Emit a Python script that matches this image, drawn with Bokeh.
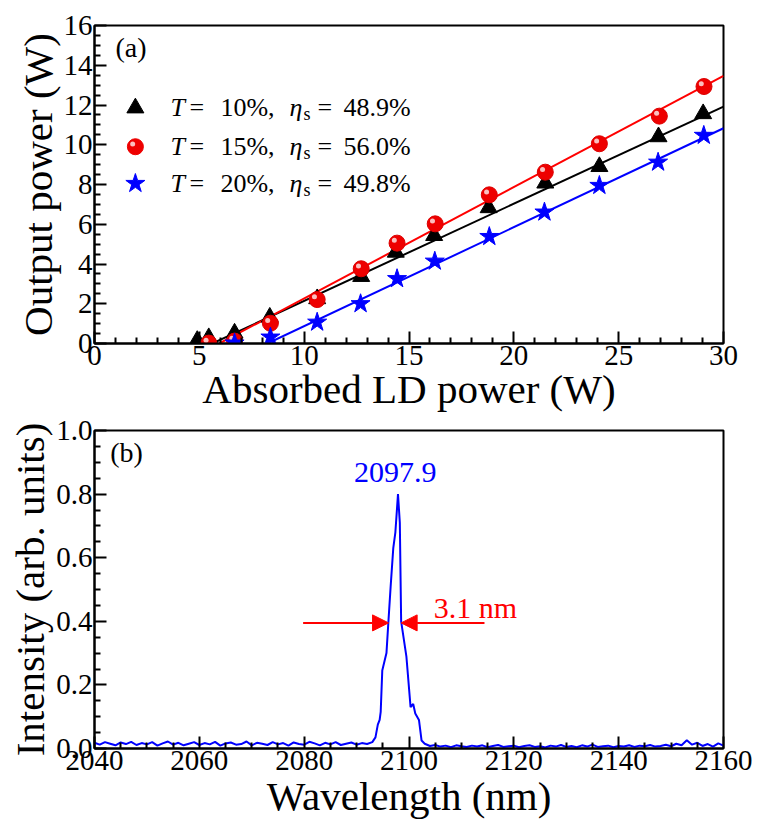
from bokeh.plotting import figure
from bokeh.models import Label, Arrow, NormalHead, FixedTicker, LinearAxis
from bokeh.layouts import column
from bokeh.embed import file_html
from bokeh.resources import INLINE

FONT = "Liberation Serif"   # annotations
FONT_AX = "serif"           # axes

# ---------------- (a) output power data ----------------
T10_X = [4.9, 5.45, 6.68, 8.36, 10.62, 12.72, 14.37, 16.2, 18.8, 21.5, 24.08, 26.9, 29.03]
T10_Y = [0.15, 0.29, 0.52, 1.32, 2.25, 3.37, 4.59, 5.43, 6.83, 8.07, 8.9, 10.4, 11.56]
T15_X = [5.45, 6.68, 8.39, 10.62, 12.72, 14.43, 16.25, 18.83, 21.5, 24.08, 26.94, 29.07]
T15_Y = [0.02, 0.12, 1.02, 2.21, 3.76, 5.05, 6.02, 7.48, 8.62, 10.05, 11.44, 12.93]
T20_X = [6.68, 8.39, 10.62, 12.69, 14.43, 16.23, 18.83, 21.46, 24.08, 26.88, 29.06]
T20_Y = [0.02, 0.32, 1.07, 2.0, 3.26, 4.14, 5.38, 6.61, 7.95, 9.12, 10.47]

FIT_SLOPE = [0.489, 0.560, 0.498]
FIT_X0 = [5.62, 5.95, 8.25]
FIT_XEND = 30.0

LEG_T = ["10%", "15%", "20%"]
LEG_ETA = ["48.9%", "56.0%", "49.8%"]

XTICKS_A = [0, 5, 10, 15, 20, 25, 30]
YTICKS_A = [0, 2, 4, 6, 8, 10, 12, 14, 16]

# ---------------- (b) spectrum data ----------------
BASE_L_WL = list(range(2040, 2093))
BASE_L_I = [0.018, 0.012, 0.020, 0.015, 0.010, 0.019, 0.014, 0.021, 0.011, 0.017,
            0.013, 0.020, 0.009, 0.016, 0.022, 0.012, 0.018, 0.010, 0.015, 0.020,
            0.011, 0.017, 0.013, 0.021, 0.009, 0.016, 0.019, 0.012, 0.014, 0.022,
            0.010, 0.018, 0.015, 0.011, 0.020, 0.013, 0.017, 0.009, 0.019, 0.014,
            0.012, 0.021, 0.016, 0.010, 0.018, 0.013, 0.020, 0.011, 0.015, 0.019,
            0.012, 0.017, 0.014]
PEAK_WL = [2093.0, 2093.6, 2094.05, 2094.4, 2094.6, 2094.9, 2095.7, 2096.0, 2096.5, 2097.0,
           2097.4, 2097.9, 2098.25, 2098.5, 2099.5, 2100.3, 2100.8, 2101.2, 2101.9, 2102.4]
PEAK_I = [0.02, 0.035, 0.075, 0.09, 0.115, 0.245, 0.30, 0.38, 0.51, 0.63,
          0.68, 0.80, 0.71, 0.40, 0.29, 0.13, 0.14, 0.11, 0.09, 0.025]
BASE_R_WL = list(range(2103, 2161))
BASE_R_I = [0.015, 0.008, 0.011, 0.006, 0.009, 0.004, 0.010, 0.007, 0.005, 0.009,
            0.006, 0.010, 0.004, 0.008, 0.011, 0.005, 0.007, 0.009, 0.004, 0.008,
            0.010, 0.005, 0.007, 0.003, 0.009, 0.006, 0.011, 0.005, 0.008, 0.004,
            0.010, 0.006, 0.012, 0.005, 0.007, 0.009, 0.004, 0.008, 0.006, 0.010,
            0.005, 0.009, 0.007, 0.011, 0.006, 0.008, 0.012, 0.007, 0.015, 0.010,
            0.026, 0.012, 0.018, 0.008, 0.014, 0.006, 0.016, 0.009]

PEAK_LABEL = "2097.9"
FWHM_LABEL = "3.1 nm"
FWHM_LEVEL = 0.395
FWHM_LEFT = 2096.1
FWHM_RIGHT = 2098.5
ARROW_TAIL_L = 2079.8
ARROW_TAIL_R = 2114.4

XTICKS_B = [2040, 2060, 2080, 2100, 2120, 2140, 2160]
YTICKS_B = [0.0, 0.2, 0.4, 0.6, 0.8, 1.0]
YLABELS_B = ["0.0", "0.2", "0.4", "0.6", "0.8", "1.0"]

AXIS_STYLE = dict(
    axis_line_width=2, axis_line_color="black",
    major_tick_line_width=2, minor_tick_line_width=2,
    major_tick_in=12, major_tick_out=0, minor_tick_in=6, minor_tick_out=0,
    major_label_text_font=FONT_AX, major_label_text_font_size="29px",
    major_label_text_color="black", major_label_standoff=2,
    axis_label_text_font=FONT_AX, axis_label_text_font_size="41px",
    axis_label_text_font_style="normal", axis_label_text_color="black",
    axis_label_standoff=0,
)


def make_fig(xr, yr, border_top, border_bottom, xt, yt, xminor, yminor, xlab, ylab, xstand):
    p = figure(frame_width=629, frame_height=318, x_range=xr, y_range=yr,
               output_backend="svg", toolbar_location=None,
               x_axis_location=None, y_axis_location=None,
               min_border_left=94, min_border_right=30,
               min_border_top=border_top, min_border_bottom=border_bottom)
    xs = dict(AXIS_STYLE)
    xs["axis_label_standoff"] = xstand
    xax = LinearAxis(ticker=FixedTicker(ticks=xt, minor_ticks=xminor), axis_label=xlab, **xs)
    yax = LinearAxis(ticker=FixedTicker(ticks=yt, minor_ticks=yminor), axis_label=ylab, **AXIS_STYLE)
    p.add_layout(xax, "below")
    p.add_layout(yax, "left")
    p.xgrid.visible = False
    p.ygrid.visible = False
    p.outline_line_color = "black"
    p.outline_line_width = 2
    p.outline_line_alpha = 1.0
    p.background_fill_color = "white"
    p.border_fill_color = "white"
    return p, xax, yax


# ================= panel (a) =================
p1, x1, y1 = make_fig((0, 30), (0, 16), 25, 60, XTICKS_A, YTICKS_A,
                      [i for i in range(0, 31) if i % 5],
                      [i * 0.5 for i in range(0, 33) if i % 4],
                      "Absorbed LD power (W)", "Output power (W)", -2)
y1.major_label_overrides = {t: str(t) for t in YTICKS_A}

fit_colors = ["black", "red", "blue"]
for slope, x0, c in zip(FIT_SLOPE, FIT_X0, fit_colors):
    p1.line([x0, FIT_XEND], [0, slope * (FIT_XEND - x0)], line_color=c, line_width=2)

p1.scatter(T10_X, T10_Y, marker="triangle", size=17, fill_color="black", line_color="black")
p1.scatter(T15_X, T15_Y, marker="circle", size=16, fill_color="#ee0000", line_color="#dd0000")
p1.scatter([x - 0.13 for x in T15_X], [y + 0.14 for y in T15_Y], marker="circle", size=5,
           fill_color="white", fill_alpha=0.75, line_color=None)
p1.scatter(T20_X, T20_Y, marker="star", size=20, fill_color="blue", line_color="blue")

# legend (manual, to keep italic T and eta with subscript)
LEG_MX = 1.95
LEG_ROWS = [11.85, 9.9, 8.05]
LEG_TX = 3.62
leg_markers = [("triangle", 17, "black"), ("circle", 16, "#ee0000"), ("star", 20, "blue")]
for (mk, sz, col), yy in zip(leg_markers, LEG_ROWS):
    p1.scatter([LEG_MX], [yy], marker=mk, size=sz, fill_color=col, line_color=col)
    if mk == "circle":
        p1.scatter([LEG_MX - 0.13], [yy + 0.14], marker="circle", size=5,
                   fill_color="white", fill_alpha=0.75, line_color=None)

for tval, eval_, yy in zip(LEG_T, LEG_ETA, LEG_ROWS):
    pieces = [("T", 0, 0, "italic", "26px"),
              ("=", 19, 0, "normal", "26px"),
              (tval + ",", 50, 0, "normal", "26px"),
              ("η", 119, 0, "italic", "26px"),
              ("s", 133, -6, "normal", "18px"),
              ("=", 147, 0, "normal", "26px"),
              (eval_, 173, 0, "normal", "26px")]
    for txt, dx, dy, st, fs in pieces:
        p1.add_layout(Label(x=LEG_TX, y=yy, text=txt, x_offset=dx, y_offset=dy,
                            text_font=FONT, text_font_size=fs, text_font_style=st,
                            text_color="black", text_baseline="middle", text_align="left"))

p1.add_layout(Label(x=1.0, y=14.9, text="(a)", text_font=FONT, text_font_size="28px",
                    text_color="black", text_baseline="middle", text_align="left"))

# ================= panel (b) =================
p2, x2, y2 = make_fig((2040, 2160), (0, 1), 16, 80, XTICKS_B, YTICKS_B,
                      [v for v in range(2040, 2161, 5) if v % 20],
                      [round(i * 0.05, 2) for i in range(0, 21) if i % 4],
                      "Wavelength (nm)", "Intensity (arb. units)", 0)
y2.major_label_overrides = {t: l for t, l in zip(YTICKS_B, YLABELS_B)}

wl = BASE_L_WL + PEAK_WL + BASE_R_WL
inten = BASE_L_I + PEAK_I + BASE_R_I
p2.line(wl, inten, line_color="blue", line_width=2)

p2.add_layout(Arrow(end=NormalHead(size=16, fill_color="red", line_color="red"),
                    x_start=ARROW_TAIL_L, y_start=FWHM_LEVEL, x_end=FWHM_LEFT, y_end=FWHM_LEVEL,
                    line_color="red", line_width=2))
p2.add_layout(Arrow(end=NormalHead(size=16, fill_color="red", line_color="red"),
                    x_start=ARROW_TAIL_R, y_start=FWHM_LEVEL, x_end=FWHM_RIGHT, y_end=FWHM_LEVEL,
                    line_color="red", line_width=2))
p2.add_layout(Label(x=2104.7, y=0.443, text=FWHM_LABEL, text_font=FONT, text_font_size="30px",
                    text_color="red", text_baseline="middle", text_align="left"))
p2.add_layout(Label(x=2097.4, y=0.868, text=PEAK_LABEL, text_font=FONT, text_font_size="30px",
                    text_color="blue", text_baseline="middle", text_align="center"))
p2.add_layout(Label(x=2043.0, y=0.93, text="(b)", text_font=FONT, text_font_size="28px",
                    text_color="black", text_baseline="middle", text_align="left"))

layout = column(p1, p2, spacing=0)
open("out.html", "w").write(file_html(layout, INLINE))
